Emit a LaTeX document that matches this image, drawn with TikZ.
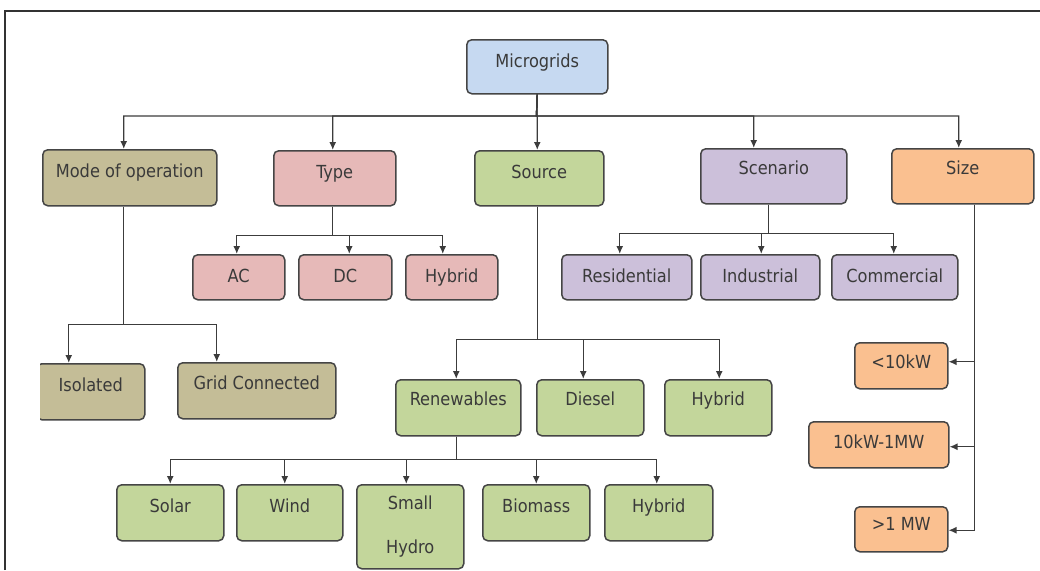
\documentclass[tikz,border=0pt]{standalone}
\usepackage{fontspec}
\setmainfont{DejaVu Sans Condensed}
\usetikzlibrary{arrows.meta}

\definecolor{bluebox}{HTML}{C6D9F1}
\definecolor{tanbox}{HTML}{C4BD97}
\definecolor{pinkbox}{HTML}{E6B9B8}
\definecolor{greenbox}{HTML}{C3D69B}
\definecolor{purplebox}{HTML}{CCC0DA}
\definecolor{orangebox}{HTML}{FAC090}
\definecolor{boxline}{HTML}{454545}
\definecolor{wire}{HTML}{3C3C3C}
\definecolor{txt}{HTML}{3A3A3A}

\tikzset{
  box/.style={draw=boxline, line width=1.5pt, rounded corners=5pt, anchor=north west,
    inner sep=0pt, text height=28pt, text depth=28pt, text=txt,
    font=\fontsize{18}{20}\selectfont},
  low/.style={text depth=17pt},
  arr/.style={draw=wire, line width=1.4pt, -{Latex[length=8pt,width=7pt]}},
}

\begin{document}
\begin{tikzpicture}[x=1pt, y=-1pt]
\useasboundingbox (0,0) rectangle (1040,570);
% frame
\draw[line width=2pt, black!80] (5,570) -- (5,11) -- (1040,11);

% root and first level
\node[box, fill=bluebox, minimum width=141pt, text depth=26pt] (micro) at (466,39) {Microgrids};
\node[box, fill=tanbox, minimum width=174pt] (mode) at (42,149) {Mode of operation};
\node[box, fill=pinkbox, minimum width=122pt, text depth=27pt] (type) at (273,150) {Type};
\node[box, fill=greenbox, minimum width=129pt, text depth=27pt] (source) at (474,150) {Source};
\node[box, fill=purplebox, minimum width=146pt, text depth=29pt, text height=26pt] (scen) at (700,148) {Scenario};
\node[box, fill=orangebox, minimum width=142pt, text depth=29pt, text height=26pt] (size) at (891,148) {Size};

% type and scenario
\node[box, low, fill=pinkbox, minimum width=92pt] (ac) at (192,254) {AC};
\node[box, low, fill=pinkbox, minimum width=93pt] (dc) at (298,254) {DC};
\node[box, low, fill=pinkbox, minimum width=92pt] (hyb1) at (405,254) {Hybrid};
\node[box, low, fill=purplebox, minimum width=130pt] (resid) at (561,254) {Residential};
\node[box, low, fill=purplebox, minimum width=119pt] (indus) at (700,254) {Industrial};
\node[box, low, fill=purplebox, minimum width=126pt] (comm) at (831,254) {Commercial};

% mode of operation
\begin{scope}
\clip (40,0) rectangle (1040,570);
\node[box, fill=tanbox, minimum width=108pt] (isol) at (36,363) {Isolated};
\end{scope}
\node[box, fill=tanbox, minimum width=158pt, text height=27pt, text depth=29pt] (grid) at (177,362) {Grid Connected};

% source
\node[box, fill=greenbox, minimum width=125pt, text height=26pt, text depth=30pt] (renew) at (395,379) {Renewables};
\node[box, fill=greenbox, minimum width=107pt, text height=26pt, text depth=30pt] (diesel) at (536,379) {Diesel};
\node[box, fill=greenbox, minimum width=107pt, text height=26pt, text depth=30pt] (hyb2) at (664,379) {Hybrid};

% renewables
\node[box, fill=greenbox, minimum width=107pt] (solar) at (116,484) {Solar};
\node[box, fill=greenbox, minimum width=106pt] (wind) at (236,484) {Wind};
\node[box, fill=greenbox, minimum width=107pt, minimum height=84pt, text height=, text depth=, align=center]
  (hydro) at (356,484) {Small\\[24pt]Hydro};
\node[box, fill=greenbox, minimum width=107pt] (biom) at (482,484) {Biomass};
\node[box, fill=greenbox, minimum width=108pt] (hyb3) at (604,484) {Hybrid};

% size
\node[box, low, fill=orangebox, minimum width=93pt, text height=26pt, text depth=20pt] (lt10) at (854,342) {<10kW};
\node[box, low, fill=orangebox, minimum width=140pt, text height=27pt, text depth=19pt] (mid) at (808,421) {10kW-1MW};
\node[box, low, fill=orangebox, minimum width=93pt, text height=24pt, text depth=21pt] (gt1) at (854,506) {>1 MW};

% connectors
\coordinate (busA) at (536.5,116);
\foreach \n/\dx in {mode/-6, type/-2, source/-2, scen/-20, size/-4}
  \draw[arr] (micro.south) -- (busA) -| ([xshift=\dx pt]\n.north);
\foreach \n/\dx in {ac/-2, dc/4, hyb1/-9}
  \draw[arr] ([xshift=-2pt]type.south) |- ++(0,29) -| ([xshift=\dx pt]\n.north);
\foreach \n/\dx in {resid/-7, indus/1, comm/-1}
  \draw[arr] ([xshift=-5pt]scen.south) |- ++(0,29) -| ([xshift=\dx pt]\n.north);
\foreach \n/\dx in {isol/-22, grid/-40}
  \draw[arr] ([xshift=-6pt]mode.south) |- ++(0,118) -| ([xshift=\dx pt]\n.north);
\foreach \n/\dx in {renew/-2, diesel/-7, hyb2/1}
  \draw[arr] ([xshift=-2pt]source.south) |- ++(0,133) -| ([xshift=\dx pt]\n.north);
\foreach \n/\dx in {solar/0, wind/-5, hydro/-4, biom/0, hyb3/-2}
  \draw[arr] ([xshift=-2pt]renew.south) |- ++(0,23) -| ([xshift=\dx pt]\n.north);
\foreach \n/\dy in {lt10/4, mid/-2, gt1/-1}
  \draw[arr] ([xshift=12pt]size.south) |- ([yshift=\dy pt]\n.east);
\end{tikzpicture}
\end{document}
